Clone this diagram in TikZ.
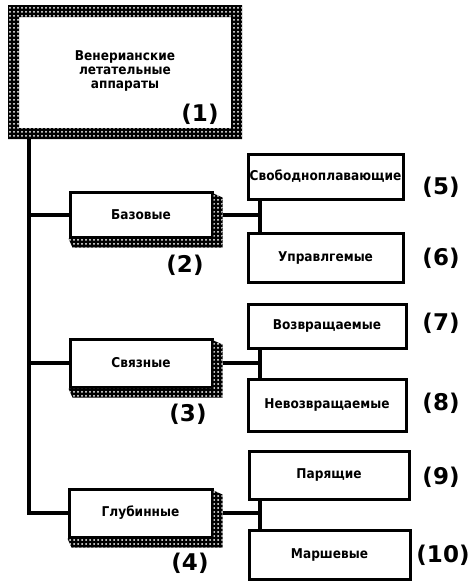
\documentclass[tikz,border=0pt]{standalone}
\usepackage{fontspec}
\setmainfont{DejaVu Sans}
\newfontfamily\boxfont{DejaVu Sans Condensed}
\usetikzlibrary{patterns}
\pgfdeclarepatternformonly{chaindots}{\pgfqpoint{-1pt}{-1pt}}{\pgfqpoint{5pt}{5pt}}{\pgfqpoint{4pt}{4pt}}%
  {\pgfpathcircle{\pgfqpoint{2pt}{2pt}}{1pt}\pgfusepath{fill}}
\newcommand\shadowof[1]{%
  \fill[black] ([yshift=-3pt]#1.north east) -- ([xshift=9pt,yshift=-7pt]#1.north east)
     -- ([xshift=9pt,yshift=-9pt]#1.south east) -- ([xshift=4pt,yshift=-9pt]#1.south west)
     -- (#1.south west) -- (#1.south east) -- cycle;
  \path[pattern=chaindots, pattern color=white] ([yshift=-3pt]#1.north east) -- ([xshift=9pt,yshift=-7pt]#1.north east)
     -- ([xshift=9pt,yshift=-9pt]#1.south east) -- ([xshift=4pt,yshift=-9pt]#1.south west)
     -- (#1.south west) -- (#1.south east) -- cycle;}
\begin{document}
\begin{tikzpicture}[x=1pt,y=-1pt,
  box/.style={draw, line width=3pt, fill=white, inner sep=0pt,
    font=\boxfont\bfseries\fontsize{13.5}{15}\selectfont},
  conn/.style={line width=4pt},
  num/.style={font=\bfseries\fontsize{23}{25}\selectfont, inner sep=0pt}]
\useasboundingbox[fill=white] (0,0) rectangle (474,582);

% top box
\node[inner sep=0pt, minimum width=234pt, minimum height=134pt, align=center,
  font=\boxfont\bfseries\fontsize{13.5}{14}\selectfont] (top) at (125,71)
  {Венерианские\\летательные\\аппараты};
\fill[black, even odd rule] (8,5) rectangle (242,139) (19,17) rectangle (231,128);
\path[pattern=chaindots, pattern color=white, even odd rule] (8,5) rectangle (242,139) (19,17) rectangle (231,128);

% second-level boxes
\node[box, minimum width=142pt, minimum height=45pt] (b2) at (141,214.5) {Базовые};
\node[box, minimum width=142pt, minimum height=48pt] (b3) at (141,363) {Связные};
\node[box, minimum width=143pt, minimum height=48pt] (b4) at (140.5,513) {Глубинные};
\shadowof{b2}
\shadowof{b3}
\shadowof{b4}

% leaves
\node[box, minimum width=155pt, minimum height=45pt] (b5) at (325.5,176.5) {Свободноплавающие};
\node[box, minimum width=155pt, minimum height=49pt] (b6) at (325.5,257.5) {Управлгемые};
\node[box, minimum width=158pt, minimum height=44pt] (b7) at (327,326) {Возвращаемые};
\node[box, minimum width=158pt, minimum height=52pt] (b8) at (327,405) {Невозвращаемые};
\node[box, minimum width=160pt, minimum height=48pt] (b9) at (329,475) {Парящие};
\node[box, minimum width=161pt, minimum height=49pt] (b10) at (329.5,554.5) {Маршевые};

% connectors
\coordinate (trunk) at (29,139);
\draw[conn] (trunk) |- (b4.west);
\draw[conn] (trunk |- b2.west) -- (b2.west);
\draw[conn] (trunk |- b3.west) -- (b3.west);
\coordinate (j2) at (260,214.5);
\coordinate (j3) at (260,363);
\coordinate (j4) at (260,513);
\draw[conn] ([xshift=9pt]b2.east) -- (j2);
\draw[conn] ([xshift=9pt]b3.east) -- (j3);
\draw[conn] ([xshift=9pt]b4.east) -- (j4);
\draw[conn] (j2 |- b5.south) -- (j2 |- b6.north);
\draw[conn] (j3 |- b7.south) -- (j3 |- b8.north);
\draw[conn] (j4 |- b9.south) -- (j4 |- b10.north);

% numbers
\node[num] (n1) at (200,114) {(1)};
\node[num] (n2) at (185,265) {(2)};
\node[num] (n3) at (188,414) {(3)};
\node[num] (n4) at (190,563) {(4)};
\node[num] (n5) at (441,187) {(5)};
\node[num] (n6) at (441,258) {(6)};
\node[num] (n7) at (441,323) {(7)};
\node[num] (n8) at (441,403) {(8)};
\node[num] (n9) at (441,477) {(9)};
\node[num] (n10) at (443,555) {(10)};
\end{tikzpicture}
\end{document}
